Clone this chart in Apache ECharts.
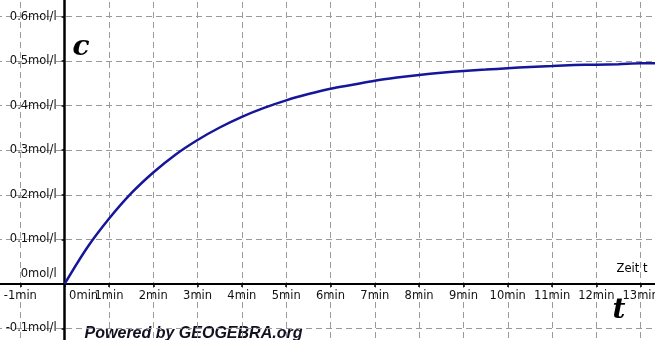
<!DOCTYPE html>
<html>
<head>
<meta charset="utf-8">
<script src="https://cdn.jsdelivr.net/npm/echarts@6/dist/echarts.min.js"></script>
<style>
html,body{margin:0;padding:0;background:#fff;overflow:hidden;width:655px;height:340px;position:relative;}
#chart{position:absolute;left:-103.6px;top:-108px;width:869px;height:561px;}
</style>
</head>
<body>
<div id="chart"></div>
<script>
// Time values (min) and concentration values (mol/l)
var times = [0, 0.5, 1, 1.5, 2, 2.5, 3, 3.5, 4, 4.5, 5, 5.5, 6, 6.5, 7, 7.5, 8, 8.5, 9, 9.5, 10, 10.5, 11, 11.5, 12, 12.5, 13, 13.5];
var conc = [0, 0.080, 0.146, 0.203, 0.250, 0.290, 0.323, 0.351, 0.375, 0.395, 0.412, 0.426, 0.438, 0.447, 0.456, 0.463, 0.469, 0.474, 0.478, 0.481, 0.484, 0.487, 0.489, 0.491, 0.492, 0.493, 0.495, 0.495];
var xUnit = 'min';
var yUnit = 'mol/l';
var xAxisLabel = 'Zeit t';

var data = times.map(function (t, i) { return [t, conc[i]]; });

var labelFont = 'DejaVu Sans';
var labelColor = '#111';
var ox = 103.6, oy = 108; // offset of the chart box relative to the visible window
var pad = 80;
var gridW = 869 - 2 * pad, gridH = 561 - 2 * pad;
var xMin = -2, xMax = 14, yMin = -0.2, yMax = 0.7;
// move axes from grid edges onto the zero lines
var xAxisOffset = -gridH * (0 - yMin) / (yMax - yMin);
var yAxisOffset = -gridW * (0 - xMin) / (xMax - xMin);

var chart = echarts.init(document.getElementById('chart'), null, {renderer: 'canvas'});
chart.setOption({
  animation: false,
  backgroundColor: '#ffffff',
  grid: {left: pad, right: pad, top: pad, bottom: pad, containLabel: false},
  xAxis: {
    type: 'value', min: xMin, max: xMax, interval: 1, position: 'bottom', offset: xAxisOffset,
    axisLine: {onZero: false, lineStyle: {color: '#000', width: 2}},
    axisTick: {show: true, length: 3, lineStyle: {color: '#000', width: 1.5}},
    splitLine: {show: true, lineStyle: {color: '#9a9a9a', width: 1, type: [6, 4]}},
    axisLabel: {
      show: true, margin: 6, fontFamily: labelFont, fontSize: 11.5, color: labelColor,
      formatter: function (v) {
        if (Math.abs(v) < 1e-9) return '{z|0' + xUnit + '}';
        return Math.round(v) + xUnit;
      },
      rich: {z: {fontFamily: labelFont, fontSize: 11.5, color: labelColor, padding: [0, 0, 0, 38]}}
    }
  },
  yAxis: {
    type: 'value', min: yMin, max: yMax, interval: 0.1, position: 'left', offset: yAxisOffset,
    axisLine: {onZero: false, lineStyle: {color: '#000', width: 2.5}},
    axisTick: {show: true, length: 3, lineStyle: {color: '#000', width: 1.5}},
    splitLine: {show: true, lineStyle: {color: '#9a9a9a', width: 1, type: [6, 4]}},
    axisLabel: {
      show: true, margin: 8, fontFamily: labelFont, fontSize: 11.5, color: labelColor,
      formatter: function (v) {
        if (Math.abs(v) < 1e-9) return '{z|0' + yUnit + '}';
        return (+v.toFixed(1)) + yUnit;
      },
      rich: {z: {fontFamily: labelFont, fontSize: 11.5, color: labelColor, padding: [0, 0, 20, 0]}}
    }
  },
  series: [{
    type: 'line', data: data, smooth: 0.3, showSymbol: false,
    lineStyle: {color: '#16169a', width: 2.5}
  }],
  graphic: [
    {type: 'text', left: 73 + ox, top: 34 + oy, style: {text: 'c', font: 'italic bold 28px "DejaVu Serif"', fill: '#000'}},
    {type: 'text', left: 613 + ox, top: 297 + oy, style: {text: 't', font: 'italic bold 28px "DejaVu Serif"', fill: '#000'}},
    {type: 'text', left: 617 + ox, top: 263 + oy, style: {text: xAxisLabel, font: '11.5px "DejaVu Sans"', fill: '#000'}},
    {type: 'text', left: 85 + ox, top: 326 + oy, style: {text: 'Powered by GEOGEBRA.org', font: 'italic bold 16px "Liberation Sans"', fill: '#111122'}}
  ]
});
</script>
</body>
</html>
